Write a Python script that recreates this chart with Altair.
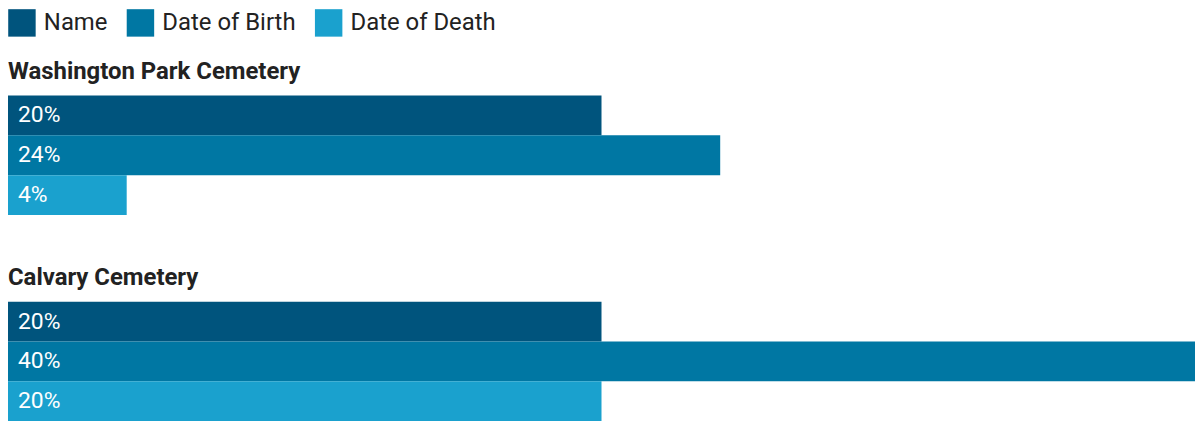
import altair as alt
import pandas as pd

cemeteries = ["Washington Park Cemetery", "Calvary Cemetery"]
fields = ["Name", "Date of Birth", "Date of Death"]
washington = [0.20, 0.24, 0.04]
calvary = [0.20, 0.40, 0.20]
colors = ["#00547d", "#0077a3", "#1aa1ce"]


def panel(name, values):
    df = pd.DataFrame({"field": fields, "value": values})
    base = alt.Chart(df).encode(
        y=alt.Y("field:N", sort=fields, axis=None,
                scale=alt.Scale(paddingInner=0, paddingOuter=0))
    )
    bars = base.mark_bar(strokeWidth=0).encode(
        x=alt.X("value:Q", axis=None,
                scale=alt.Scale(domain=[0, 0.4], nice=False, zero=True)),
        color=alt.Color(
            "field:N", sort=fields,
            scale=alt.Scale(domain=fields, range=colors),
            legend=alt.Legend(
                title=None, orient="top", direction="horizontal",
                symbolType="square", symbolSize=760, symbolStrokeWidth=0,
                labelFontSize=24, labelFont="Roboto", labelColor="#222222",
                labelOffset=8, columnPadding=19, offset=23,
            ),
        ),
    )
    labels = base.mark_text(
        align="left", baseline="middle", dx=10, color="white",
        font="Roboto", fontSize=23
    ).encode(
        x=alt.datum(0),
        text=alt.Text("value:Q", format=".0%"),
    )
    return alt.layer(bars, labels).properties(
        width=1192, height=120,
        title=alt.Title(name, anchor="start", font="Roboto", fontSize=24,
                        fontWeight="bold", color="#222222", offset=12),
    )


chart = alt.vconcat(
    panel(cemeteries[0], washington),
    panel(cemeteries[1], calvary),
    spacing=51,
).properties(padding=0).configure_view(stroke=None)

chart.save("out.html", embed_options={"renderer": "svg", "actions": False})
